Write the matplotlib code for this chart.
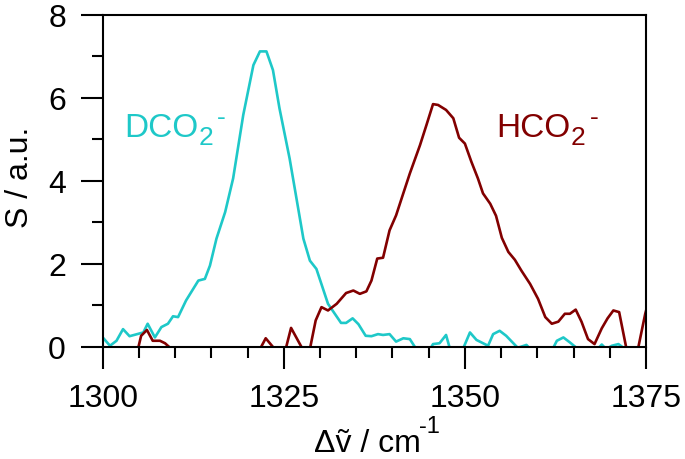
import matplotlib
matplotlib.use("Agg")
import matplotlib.pyplot as plt
from matplotlib.ticker import MultipleLocator

plt.rcParams['font.family'] = ['Liberation Sans', 'DejaVu Sans']

# DCO2- spectrum (below-zero parts are clipped)
dco2_x = [1300.0, 1301.0, 1301.9, 1302.8, 1303.7, 1305.6, 1306.2, 1307.2, 1308.1, 1309.0,
          1309.7, 1310.4, 1311.5, 1313.2, 1314.1, 1314.8, 1315.7, 1316.9, 1318.0, 1319.4,
          1320.8, 1321.7, 1322.6, 1323.5, 1324.4, 1325.8, 1327.7, 1328.6, 1329.5, 1331.1,
          1332.9, 1333.6, 1334.5, 1335.3, 1336.3, 1337.1, 1338.0, 1338.7, 1339.6, 1340.5,
          1341.5, 1342.4, 1343.1, 1344.2, 1345.2, 1345.6, 1346.5, 1347.4, 1347.9, 1348.8,
          1349.8, 1350.7, 1351.6, 1353.2, 1353.9, 1354.8, 1355.7, 1357.3, 1358.5, 1359.3,
          1360.5, 1362.2, 1362.7, 1363.6, 1364.5, 1365.4, 1367.0, 1368.9, 1369.5, 1370.3,
          1371.2, 1371.9, 1373.5, 1375.0]
dco2_y = [0.23, 0.03, 0.15, 0.43, 0.26, 0.35, 0.56, 0.23, 0.48, 0.56,
          0.74, 0.72, 1.12, 1.60, 1.64, 1.96, 2.61, 3.25, 4.06, 5.59,
          6.79, 7.12, 7.12, 6.67, 5.75, 4.54, 2.61, 2.08, 1.88, 1.04,
          0.58, 0.58, 0.69, 0.55, 0.27, 0.26, 0.31, 0.29, 0.31, 0.13,
          0.21, 0.19, 0.0, -0.2, -0.05, 0.07, 0.09, 0.29, -0.02, -0.3,
          -0.02, 0.35, 0.17, 0.03, 0.31, 0.39, 0.27, -0.02, 0.05, -0.1,
          -0.3, -0.02, 0.15, 0.23, 0.11, -0.02, -0.3, 0.06, -0.05, 0.03,
          0.07, -0.02, -0.3, -0.3]

# HCO2- spectrum
hco2_x = [1300.0, 1304.9, 1305.3, 1306.1, 1306.9, 1307.9, 1308.6, 1309.3, 1310.5, 1315.0,
          1320.0, 1321.8, 1322.5, 1323.6, 1324.5, 1325.3, 1326.0, 1327.5, 1328.6, 1329.4,
          1330.2, 1331.1, 1332.3, 1333.6, 1334.6, 1335.5, 1336.4, 1337.1, 1337.9, 1338.7,
          1339.6, 1340.5, 1341.4, 1342.4, 1343.8, 1344.7, 1345.6, 1346.3, 1347.4, 1348.4,
          1349.2, 1350.0, 1350.9, 1351.8, 1352.5, 1353.5, 1354.3, 1355.1, 1356.0, 1356.9,
          1357.8, 1359.0, 1360.1, 1361.1, 1362.0, 1362.9, 1363.8, 1364.5, 1365.3, 1366.1,
          1367.0, 1367.9, 1368.9, 1369.7, 1370.5, 1371.3, 1372.6, 1373.6, 1374.9, 1375.5]
hco2_y = [-0.3, -0.02, 0.27, 0.41, 0.15, 0.15, 0.09, -0.02, -0.3, -0.5,
          -0.3, -0.02, 0.21, -0.02, -0.3, -0.02, 0.46, -0.02, -0.05, 0.64,
          0.96, 0.88, 1.04, 1.30, 1.36, 1.28, 1.34, 1.60, 2.13, 2.15,
          2.81, 3.17, 3.65, 4.18, 4.86, 5.35, 5.85, 5.83, 5.71, 5.51,
          5.04, 4.90, 4.46, 4.06, 3.70, 3.45, 3.16, 2.63, 2.29, 2.10,
          1.84, 1.52, 1.16, 0.72, 0.56, 0.61, 0.80, 0.80, 0.90, 0.61,
          0.19, 0.07, 0.45, 0.69, 0.88, 0.84, -0.3, -0.3, 0.80, 1.2]

cyan = '#1ec8c8'
darkred = '#820000'

fig = plt.figure(figsize=(6.85, 4.6), dpi=100)
ax = fig.add_axes([0.150, 0.2435, 0.793, 0.722])

ax.plot(dco2_x, dco2_y, color=cyan, lw=1.9)
ax.plot(hco2_x, hco2_y, color=darkred, lw=1.9)

ax.set_xlim(1300, 1375)
ax.set_ylim(0, 8)
ax.xaxis.set_major_locator(MultipleLocator(25))
ax.xaxis.set_minor_locator(MultipleLocator(5))
ax.yaxis.set_major_locator(MultipleLocator(2))
ax.yaxis.set_minor_locator(MultipleLocator(1))

for s in ax.spines.values():
    s.set_linewidth(1.5)
ax.tick_params(which='both', direction='out', width=1.5, labelsize=23)
ax.tick_params(which='major', length=15.5)
ax.tick_params(which='minor', length=7.8)
ax.tick_params(axis='x', which='major', pad=10.5)
ax.tick_params(axis='y', which='major', pad=11)

# x label with a raised "-1"
ax.set_xlabel('Δṽ / cm', fontsize=23)
ax.xaxis.label.set_ha('left')
ax.xaxis.label.set_va('baseline')
ax.xaxis.set_label_coords(0.388, -0.312)
ax.annotate('-1', xy=(1, 0), xycoords=ax.xaxis.label, xytext=(-1.5, 26),
            textcoords='offset pixels', fontsize=17, ha='left', va='baseline')

ax.set_ylabel('S / a.u.', fontsize=23)
ax.yaxis.set_label_coords(-0.125, 0.5136)


def species_label(x, y, base, color):
    # base name, subscript 2, then a raised hyphen
    t1 = ax.text(x, y, base, color=color, fontsize=24, ha='left', va='baseline')
    t2 = ax.annotate('2', xy=(1, 0), xycoords=t1, xytext=(0, -1),
                     textcoords='offset pixels', color=color, fontsize=19,
                     ha='left', va='baseline')
    ax.annotate('-', xy=(1, 0), xycoords=t2, xytext=(4, 25.5),
                textcoords='offset pixels', color=color, fontsize=19,
                ha='left', va='baseline')


species_label(1302.95, 5.08, 'DCO', cyan)
species_label(1354.35, 5.08, 'HCO', darkred)

fig.savefig('out.png', dpi=100)
